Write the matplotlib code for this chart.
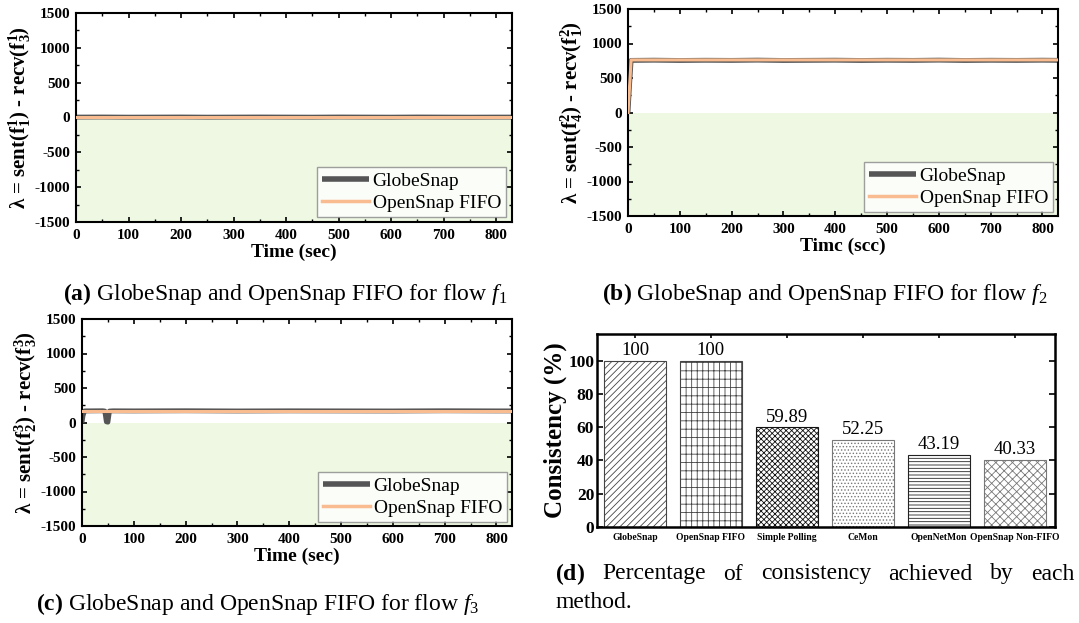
import matplotlib
matplotlib.use("Agg")
import matplotlib.pyplot as plt
from matplotlib.ticker import MultipleLocator

plt.rcParams['font.family'] = ['Liberation Serif', 'DejaVu Serif']
plt.rcParams['mathtext.fontset'] = 'custom'
plt.rcParams['mathtext.rm'] = 'Liberation Serif'
plt.rcParams['mathtext.it'] = 'Liberation Serif:italic'
plt.rcParams['mathtext.bf'] = 'Liberation Serif:bold'
plt.rcParams['hatch.linewidth'] = 0.6
plt.rcParams['axes.unicode_minus'] = False

# ---------------- data ----------------
# (a) flow f1
t_a = [0, 50, 100, 150, 200, 250, 300, 350, 400, 450, 500, 550, 600, 650, 700, 750, 800, 830]
globe_a = [6, 7, 5, 6, 7, 5, 6, 7, 6, 5, 7, 6, 5, 7, 6, 5, 6, 6]
fifo_a = [5, 5, 5, 5, 5, 5, 5, 5, 5, 5, 5, 5, 5, 5, 5, 5, 5, 5]

# (b) flow f2
t_b = [0, 3, 6, 50, 100, 150, 200, 250, 300, 350, 400, 450, 500, 550, 600, 650, 700, 750, 800, 830]
globe_b = [0, 400, 755, 758, 754, 757, 755, 759, 754, 756, 758, 754, 757, 755, 759, 754, 757, 755, 758, 756]
fifo_b = [0, 380, 762, 762, 762, 762, 762, 762, 762, 762, 762, 762, 762, 762, 762, 762, 762, 762, 762, 762]

# (c) flow f3
t_c = [0, 2, 5, 40, 44, 47, 50, 53, 60, 100, 200, 300, 400, 500, 600, 700, 800, 830]
globe_c = [0, 100, 168, 170, 166, 10, 5, 166, 169, 168, 170, 167, 169, 168, 167, 170, 168, 168]
t_c_fifo = [0, 100, 200, 300, 400, 500, 600, 700, 800, 830]
fifo_c = [170, 170, 170, 170, 170, 170, 170, 170, 170, 170]

# (d) consistency
methods = ['GlobeSnap', 'OpenSnap FIFO', 'Simple Polling', 'CeMon', 'OpenNetMon', 'OpenSnap Non-FIFO']
consistency = [100, 100, 59.89, 52.25, 43.19, 40.33]
value_labels = ['100', '100', '59.89', '52.25', '43.19', '40.33']

# ---------------- figure ----------------
W, H = 1079, 623
fig = plt.figure(figsize=(W / 100, H / 100), dpi=100)

def rect(l, t, r, b):
    return [l / W, 1 - b / H, (r - l) / W, (b - t) / H]

GREEN = '#EEF8E2'
GRAY = '#555555'
ORANGE = '#F8BC90'


def line_panel(ax, t_g, g, t_f, f, ylabel, leg_anchor, xlabel='Time (sec)'):
    ax.axhspan(-1500, 0, color=GREEN, zorder=0, lw=0)
    ax.plot(t_g, g, color=GRAY, lw=3.5, label='GlobeSnap', zorder=2, solid_capstyle='butt')
    ax.plot(t_f, f, color=ORANGE, lw=2.2, label='OpenSnap FIFO', zorder=3)
    ax.set_xlim(0, 830)
    ax.set_ylim(-1500, 1500)
    ax.xaxis.set_major_locator(MultipleLocator(100))
    ax.xaxis.set_minor_locator(MultipleLocator(50))
    ax.yaxis.set_major_locator(MultipleLocator(500))
    ax.yaxis.set_minor_locator(MultipleLocator(250))
    ax.tick_params(which='both', direction='in', top=True, right=True)
    ax.tick_params(which='major', length=3.5, width=1.2, labelsize=11)
    ax.tick_params(axis='x', which='major', pad=5)
    ax.tick_params(axis='y', which='major', pad=4)
    ax.tick_params(which='minor', length=2, width=1)
    for lab in ax.get_xticklabels() + ax.get_yticklabels():
        lab.set_fontweight('bold')
    for s in ax.spines.values():
        s.set_linewidth(1.5)
    ax.set_xlabel(xlabel, fontsize=14, fontweight='bold', labelpad=1)
    ax.set_ylabel(ylabel, fontsize=15, fontweight='bold', labelpad=1)
    leg = ax.legend(loc='lower right', bbox_to_anchor=leg_anchor, fontsize=14,
                    frameon=True, fancybox=False, edgecolor='#888888',
                    handlelength=2.4, handletextpad=0.2, borderpad=0.25,
                    labelspacing=0.25, borderaxespad=0)
    leg.get_frame().set_linewidth(1.0)
    leg.get_lines()[0].set_linewidth(4)
    leg.get_lines()[1].set_linewidth(2.5)


ax_a = fig.add_axes(rect(76, 13, 512, 222))
line_panel(ax_a, t_a, globe_a, t_a, fifo_a,
           r'λ = sent($\mathbf{f}_{\mathbf{1}}^{\mathbf{1}}$) - recv($\mathbf{f}_{\mathbf{3}}^{\mathbf{1}}$)',
           (0.986, 0.024))

ax_b = fig.add_axes(rect(628, 9, 1058, 216))
line_panel(ax_b, t_b, globe_b, t_b, fifo_b,
           r'λ = sent($\mathbf{f}_{\mathbf{4}}^{\mathbf{2}}$) - recv($\mathbf{f}_{\mathbf{1}}^{\mathbf{2}}$)',
           (0.988, 0.019), xlabel='Timc (scc)')

ax_c = fig.add_axes(rect(82, 319, 512, 526))
line_panel(ax_c, t_c, globe_c, t_c_fifo, fifo_c,
           r'λ = sent($\mathbf{f}_{\mathbf{2}}^{\mathbf{3}}$) - recv($\mathbf{f}_{\mathbf{3}}^{\mathbf{3}}$)',
           (0.988, 0.019))

# (d) bar chart
ax_d = fig.add_axes(rect(597, 334, 1055, 527))
hatches = ['/////', '|||--', 'xxxxxx', '.....', '-----', 'xxxx']
edgecols = ['#444444', '#444444', '#111111', '#777777', '#222222', '#777777']
x = list(range(len(methods)))
bars = ax_d.bar(x, consistency, width=0.81, color='white', zorder=2)
for b, h, ec in zip(bars, hatches, edgecols):
    b.set_hatch(h)
    b.set_edgecolor(ec)
    b.set_linewidth(0.8)
for xi, v, lab in zip(x, consistency, value_labels):
    ax_d.text(xi, v + 1.0, lab, ha='center', va='bottom', fontsize=13.5)
ax_d.set_xlim(-0.5, 5.53)
ax_d.set_ylim(0, 116)
ax_d.set_xticks(x)
ax_d.set_xticklabels(methods, fontsize=6.9, fontweight='bold')
ax_d.yaxis.set_major_locator(MultipleLocator(20))
ax_d.tick_params(axis='y', direction='in', right=True, labelsize=12.5, length=4, width=1.2, pad=2)
ax_d.tick_params(axis='x', direction='in', top=True, length=3, width=1.2, pad=4)
for lab in ax_d.get_yticklabels():
    lab.set_fontweight('bold')
for s in ax_d.spines.values():
    s.set_linewidth(1.8)
ax_d.set_ylabel('Consistency (%)', fontsize=18, fontweight='bold', labelpad=1)

# captions
cap_fs = 17
fig.text(285 / W, 1 - 294 / H, r'$\mathbf{(a)}$ GlobeSnap and OpenSnap FIFO for flow $f_1$',
         ha='center', va='center', fontsize=cap_fs)
fig.text(825 / W, 1 - 294 / H, r'$\mathbf{(b)}$ GlobeSnap and OpenSnap FIFO for flow $f_2$',
         ha='center', va='center', fontsize=cap_fs)
fig.text(258 / W, 1 - 604 / H, r'$\mathbf{(c)}$ GlobeSnap and OpenSnap FIFO for flow $f_3$',
         ha='center', va='center', fontsize=cap_fs)

# justified first line of caption (d)
words_d = [r'$\mathbf{(d)}$', 'Percentage', 'of', 'consistency', 'achieved', 'by', 'each']
x_left, x_right = 555, 1075
renderer = fig.canvas.get_renderer()
objs = [fig.text(0, 1 - 574 / H, w, ha='left', va='center', fontsize=cap_fs) for w in words_d]
widths = [o.get_window_extent(renderer).width for o in objs]
gap = (x_right - x_left - sum(widths)) / (len(words_d) - 1)
pos = x_left
for o, wd in zip(objs, widths):
    o.set_x(pos / W)
    pos += wd + gap
fig.text(555 / W, 1 - 603 / H, 'method.', ha='left', va='center', fontsize=cap_fs)

fig.savefig('out.png', dpi=100)
